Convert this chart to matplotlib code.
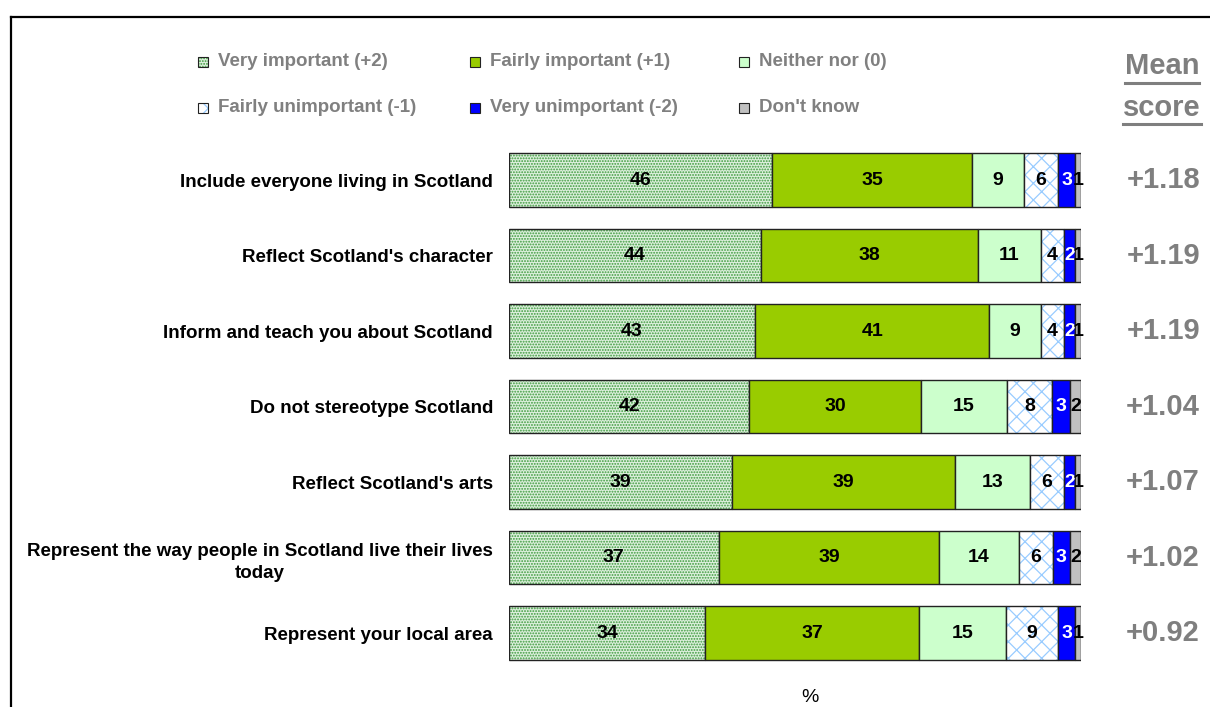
import matplotlib.pyplot as plt
import matplotlib.transforms as mtransforms
from matplotlib.patches import Rectangle
from matplotlib.lines import Line2D
import numpy as np

plt.rcParams['font.family'] = ['Liberation Sans', 'DejaVu Sans']
plt.rcParams['hatch.linewidth'] = 0.9

# Survey statements (top to bottom) and answer shares in %
statements = [
    "Include everyone living in Scotland",
    "Reflect Scotland's character",
    "Inform and teach you about Scotland",
    "Do not stereotype Scotland",
    "Reflect Scotland's arts",
    "Represent the way people in Scotland live their lives\ntoday",
    "Represent your local area",
]
very_important = [46, 44, 43, 42, 39, 37, 34]
fairly_important = [35, 38, 41, 30, 39, 39, 37]
neither_nor = [9, 11, 9, 15, 13, 14, 15]
fairly_unimportant = [6, 4, 4, 8, 6, 6, 9]
very_unimportant = [3, 2, 2, 3, 2, 3, 3]
dont_know = [1, 1, 1, 2, 1, 2, 1]
mean_scores = [1.18, 1.19, 1.19, 1.04, 1.07, 1.02, 0.92]

legend_labels = ["Very important (+2)", "Fairly important (+1)", "Neither nor (0)",
                 "Fairly unimportant (-1)", "Very unimportant (-2)", "Don't know"]

# (values, face colour, hatch, hatch colour, value label colour)
segments = [
    (very_important, '#dcefdc', '......', '#3c9a3c', 'black'),
    (fairly_important, '#99cc00', None, '#99cc00', 'black'),
    (neither_nor, '#ccffcc', None, '#ccffcc', 'black'),
    (fairly_unimportant, 'white', 'xx', '#99ccff', 'black'),
    (very_unimportant, '#0000ff', None, '#0000ff', 'white'),
    (dont_know, '#c0c0c0', None, '#c0c0c0', 'black'),
]

W, H = 1210, 707
fig = plt.figure(figsize=(W / 100, H / 100), dpi=100)
ax = fig.add_axes([509 / W, 1 - 670.75 / H, 572 / W, 528.5 / H])

n = len(statements)
y = np.arange(n)
# rows are drawn as 100% stacked bars (rounded shares don't always add to 100)
row_tot = np.sum([np.array(s[0], dtype=float) for s in segments], axis=0)
left = np.zeros(n)
bar_h = 0.715
for vals, face, hatch, hcol, tcol in segments:
    vals = np.array(vals, dtype=float)
    widths = vals / row_tot * 100
    # fill + pattern first, then a dark outline on top
    ax.barh(y, widths, left=left, height=bar_h, color=face, hatch=hatch,
            edgecolor=hcol, linewidth=0)
    ax.barh(y, widths, left=left, height=bar_h, fill=False,
            edgecolor='#222222', linewidth=1)
    for yi, l, w, v in zip(y, left, widths, vals):
        ax.text(l + w / 2, yi, f"{v:.0f}", ha='center', va='center',
                fontsize=14, weight='bold', color=tcol)
    left += widths

ax.set_xlim(0, 100)
ax.set_ylim(n - 0.5, -0.5)
ax.set_yticks(y)
ax.set_yticklabels(statements, fontsize=13.5, weight='bold',
                   multialignment='center', linespacing=1.45)
ax.tick_params(axis='y', length=0, pad=11.5)
ax.set_xticks([])
for s in ax.spines.values():
    s.set_visible(False)

# mean score column
trans = mtransforms.blended_transform_factory(ax.transAxes, ax.transData)
for yi, m in zip(y, mean_scores):
    ax.text(1.208, yi, f"{m:+.2f}", transform=trans, ha='right', va='center',
            fontsize=21, weight='bold', color='#7f7f7f')

grey = '#808080'
head_x = 1162 / W
for txt, yc, uy in [("Mean", 66, 83), ("score", 108, 124)]:
    t = fig.text(head_x, 1 - yc / H, txt, ha='center', va='center',
                 fontsize=21, weight='bold', color='#7f7f7f')
    fig.canvas.draw()
    bb = t.get_window_extent()
    fig.add_artist(Line2D([bb.x0 / W, bb.x1 / W], [1 - uy / H, 1 - uy / H],
                          transform=fig.transFigure, color='#7f7f7f', lw=2.2))

# legend, two rows of three
col_x = [203, 475, 744]
row_y = [62, 108]
order = [(0, 0), (0, 1), (0, 2), (1, 0), (1, 1), (1, 2)]
sq = 10
for (r, c), lab, (vals, face, hatch, hcol, tcol) in zip(order, legend_labels, segments):
    cx, cy = col_x[c], row_y[r]
    fig.add_artist(Rectangle(((cx - sq / 2) / W, 1 - (cy + sq / 2) / H), sq / W, sq / H,
                             transform=fig.transFigure, facecolor=face, hatch=hatch,
                             edgecolor=hcol, linewidth=0))
    fig.add_artist(Rectangle(((cx - sq / 2) / W, 1 - (cy + sq / 2) / H), sq / W, sq / H,
                             transform=fig.transFigure, fill=False,
                             edgecolor='#222222', linewidth=0.8))
    fig.text((cx + 15) / W, 1 - cy / H, lab, ha='left', va='center',
             fontsize=13.5, weight='bold', color=grey)

fig.text(810 / W, 1 - 697 / H, "%", ha='center', va='center', fontsize=14)

# frame lines on the left and top
fx, fy = 11.5 / W, 1 - 16.5 / H
fig.add_artist(Line2D([fx, fx], [0, fy], transform=fig.transFigure, color='black', lw=1.6))
fig.add_artist(Line2D([fx, 1], [fy, fy], transform=fig.transFigure, color='black', lw=1.6))

fig.savefig('out.png', dpi=100)
